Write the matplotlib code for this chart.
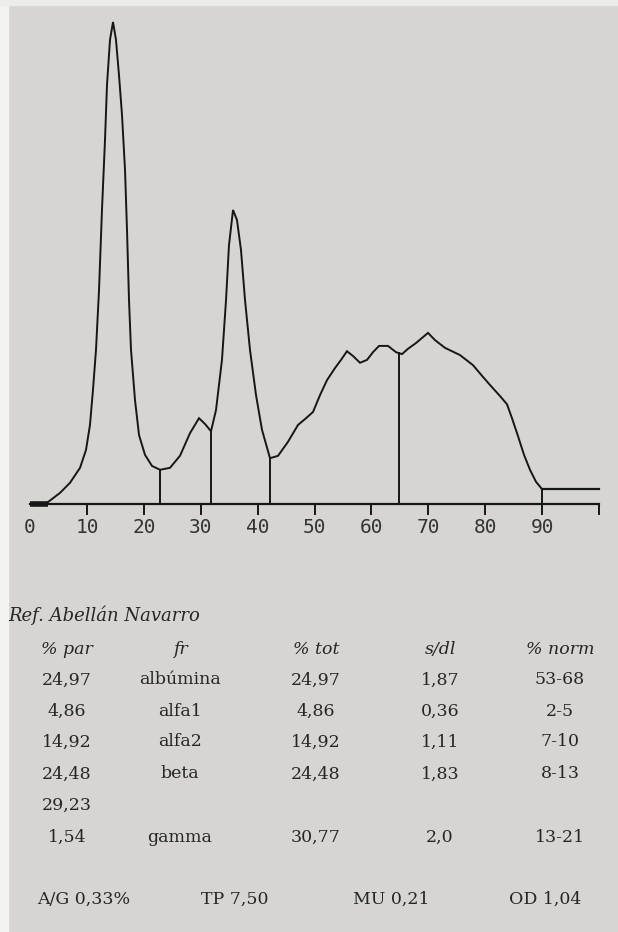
import matplotlib
matplotlib.use('Agg')
import matplotlib.pyplot as plt
from matplotlib.patches import Rectangle
import numpy as np

W, H, DPI = 618, 932, 100
PAGE = '#d6d5d1'
INK = '#161616'
TXT = '#262626'

# densitogram: mobility (0-100) and relative height (albumin peak = 100)
mob = [3.16, 5.27, 7.03, 8.79, 9.84, 10.54, 11.07, 11.60, 12.13, 12.65, 13.18, 13.53, 14.06, 14.59,
       15.11, 15.64, 16.17, 16.70, 17.05, 17.40, 17.75, 18.45, 19.16, 20.21, 21.44, 22.85, 24.60,
       26.36, 28.12, 29.70, 30.76, 31.81, 32.69, 33.74, 34.45, 34.97, 35.68, 36.38, 37.08, 37.79,
       38.66, 39.72, 40.77, 42.18, 43.59, 45.34, 47.10, 48.51, 49.74, 50.97, 52.20, 53.60, 54.66,
       55.71, 56.77, 58.00, 59.23, 60.28, 61.34, 62.92, 64.32, 65.38, 66.43, 67.84, 69.95, 71.18,
       72.93, 75.57, 77.86, 79.44, 80.84, 82.60, 83.83, 84.71, 85.76, 86.82, 87.87, 88.93, 89.98]
dens = [0.4, 2.3, 4.4, 7.5, 11.2, 16.4, 23.7, 32.0, 44.4, 61.0, 75.5, 86.9, 96.3, 100.0,
        96.3, 89.0, 80.7, 69.3, 56.8, 42.3, 32.0, 21.6, 14.3, 10.2, 7.9, 7.1, 7.5,
        10.0, 14.7, 17.8, 16.6, 15.1, 19.5, 29.9, 42.3, 53.7, 61.0, 58.9, 52.7, 42.3,
        32.0, 22.6, 15.4, 9.5, 10.0, 12.9, 16.4, 17.8, 19.1, 22.6, 25.7, 28.2, 29.9,
        31.7, 30.7, 29.3, 29.9, 31.5, 32.8, 32.8, 31.5, 31.1, 32.2, 33.4, 35.5, 34.0,
        32.4, 30.9, 28.8, 26.6, 24.7, 22.4, 20.7, 17.8, 14.1, 10.2, 7.1, 4.6, 3.1]

# fraction limits (albumin | alfa1 | alfa2 | beta | gamma | end)
cuts = [22.85, 31.81, 42.18, 64.9, 89.98]
ticks = [10, 20, 30, 40, 50, 60, 70, 80, 90, 100]
tick_labels = ['0', '10', '20', '30', '40', '50', '60', '70', '80', '90']

title = 'Ref. Abellán Navarro'
headers = ['% par', 'fr', '% tot', 's/dl', '% norm']
par = ['24,97', '4,86', '14,92', '24,48', '29,23', '1,54']
frac = ['albúmina', 'alfa1', 'alfa2', 'beta', '', 'gamma']
tot = ['24,97', '4,86', '14,92', '24,48', '', '30,77']
sdl = ['1,87', '0,36', '1,11', '1,83', '', '2,0']
norm = ['53-68', '2-5', '7-10', '8-13', '', '13-21']
footer = ['A/G 0,33%', 'TP 7,50', 'MU 0,21', 'OD 1,04']

fig = plt.figure(figsize=(W / DPI, H / DPI), dpi=DPI, facecolor=PAGE)
# lighter paper edge on the left / top of the scan
fig.patches.append(Rectangle((0, 0), 8 / W, 1, transform=fig.transFigure, color='#f3f3f1', zorder=0))
fig.patches.append(Rectangle((0, 1 - 5 / H), 1, 5 / H, transform=fig.transFigure, color='#ecece9', zorder=0))

# chart: px = 30 + 5.69*x, py = 504 - 4.82*h
chart_h = 560
ax = fig.add_axes([0, 1 - chart_h / H, 1, chart_h / H])
ax.set_facecolor('none')
ax.set_xlim(-30 / 5.69, 588 / 5.69)
ax.set_ylim((504 - chart_h) / 4.82, 504 / 4.82)
ax.axis('off')

ax.plot(mob, dens, color=INK, lw=1.4, solid_joinstyle='miter')
ax.plot([0, 100], [0, 0], color=INK, lw=1.6)
ax.plot([0, mob[0]], [0, 0], color=INK, lw=4, solid_capstyle='butt')

for c in cuts:
    top = np.interp(c, mob, dens)
    ax.plot([c, c], [0, top], color=INK, lw=1.4)
ax.plot([mob[-1], 100], [dens[-1], dens[-1]], color=INK, lw=1.6)

for t in ticks:
    ax.plot([t, t], [0, -2.1], color=INK, lw=1.4)
for i, lab in enumerate(tick_labels):
    ax.text(i * 10, -4.8, lab, ha='center', va='center', fontsize=14,
            family='DejaVu Sans Mono', color='#333333')


def fy(py):
    return 1 - py / H


def fx(px):
    return px / W


fig.text(fx(8), fy(615), title, ha='left', va='center', fontsize=13,
         family='DejaVu Serif', style='italic', color=TXT)

col_x = [67, 180, 316, 440, 560]
row_y = [680, 711, 742, 774, 805, 837]
for cx, h in zip(col_x, headers):
    fig.text(fx(cx), fy(649), h, ha='center', va='center', fontsize=12.5,
             family='DejaVu Serif', style='italic', color=TXT)

for j, col in enumerate([par, frac, tot, sdl, norm]):
    for ry, val in zip(row_y, col):
        fig.text(fx(col_x[j]), fy(ry), val, ha='center', va='center', fontsize=12.5,
                 family='DejaVu Serif', color=TXT)

for cx, f in zip([84, 235, 391, 545], footer):
    fig.text(fx(cx), fy(899), f, ha='center', va='center', fontsize=12.5,
             family='DejaVu Serif', color=TXT)

fig.savefig('out.png', dpi=DPI, facecolor=PAGE)
